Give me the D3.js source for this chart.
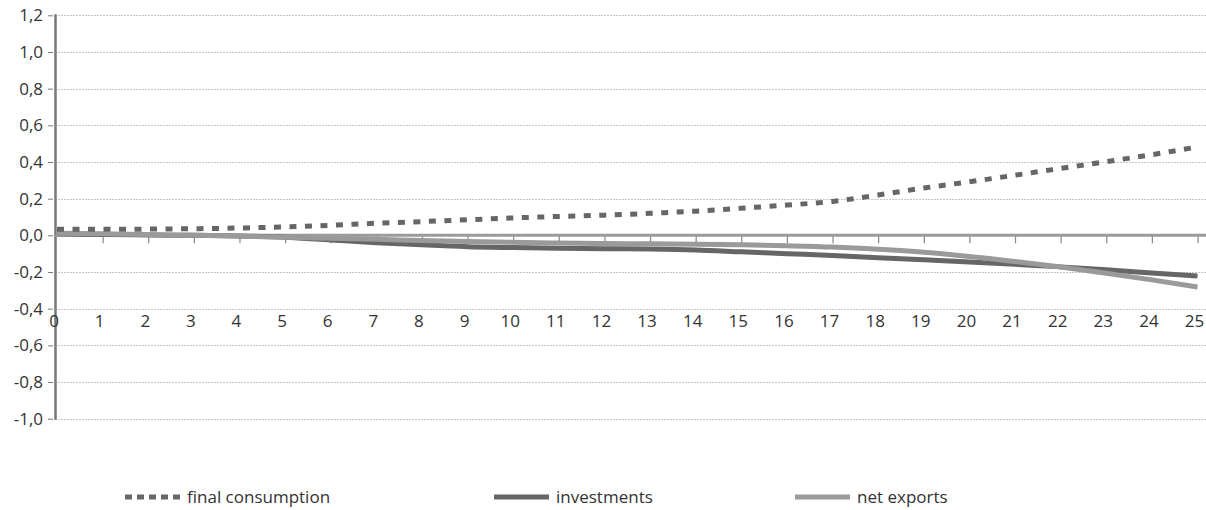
<!DOCTYPE html>
<html>
<head>
<meta charset="utf-8">
<script src="https://cdn.jsdelivr.net/npm/d3@7/dist/d3.min.js"></script>
<style>
  html, body { margin: 0; padding: 0; background: #fff; }
  svg { display: block; font-family: "Open Sans", "Noto Sans", sans-serif; }
</style>
</head>
<body>
<svg id="chart" width="1206" height="510"></svg>
<script>
const periods = d3.range(0, 26);
const yTicks = [1.2, 1.0, 0.8, 0.6, 0.4, 0.2, 0.0, -0.2, -0.4, -0.6, -0.8, -1.0];
const finalConsumption = [0.033, 0.033, 0.034, 0.036, 0.040, 0.046, 0.055, 0.066, 0.075, 0.085, 0.095, 0.103, 0.110, 0.120, 0.132, 0.148, 0.165, 0.185, 0.220, 0.258, 0.292, 0.328, 0.365, 0.402, 0.440, 0.482];
const investments = [0.008, 0.005, 0.002, 0.000, -0.003, -0.010, -0.025, -0.040, -0.052, -0.062, -0.067, -0.071, -0.073, -0.075, -0.080, -0.090, -0.100, -0.110, -0.122, -0.133, -0.145, -0.158, -0.172, -0.188, -0.205, -0.222];
const netExports = [0.012, 0.008, 0.004, 0.000, -0.004, -0.010, -0.016, -0.022, -0.028, -0.034, -0.038, -0.042, -0.045, -0.046, -0.048, -0.052, -0.057, -0.064, -0.076, -0.092, -0.115, -0.143, -0.173, -0.207, -0.243, -0.282];
const seriesNames = ["final consumption", "investments", "net exports"];

const svg = d3.select("#chart");
const x = d3.scaleLinear().domain([0, 25]).range([57, 1197.5]);
const y = d3.scaleLinear().domain([-1.0, 1.2]).range([418.7, 15.3]);
const fmt = d => d3.format(".1f")(d).replace(".", ",").replace("−", "-");
const tickFont = "17px";
const axisX = 55.5;

// gridlines (dotted)
svg.append("g").selectAll("line").data(yTicks.filter(d => d !== 0)).join("line")
  .attr("x1", axisX).attr("x2", 1206)
  .attr("y1", d => Math.round(y(d)) + 0.5).attr("y2", d => Math.round(y(d)) + 0.5)
  .attr("stroke", "#8a8a8a").attr("stroke-width", 1).attr("stroke-dasharray", "1,2");

// y axis
const yAxis = d3.axisLeft(y).tickValues(yTicks).tickSize(5).tickPadding(5).tickFormat(fmt);
const gy = svg.append("g").attr("transform", "translate(" + (axisX - 2.5) + ",0)").call(yAxis);
gy.select(".domain").remove();
gy.selectAll(".tick line").attr("stroke", "#777").attr("stroke-width", 1);
gy.selectAll(".tick text").attr("fill", "#333").style("font-size", tickFont)
  .style("font-family", "'Open Sans', sans-serif");

svg.append("line").attr("x1", axisX).attr("x2", axisX).attr("y1", y(1.2) - 1).attr("y2", y(-1.0) + 1)
  .attr("stroke", "#777").attr("stroke-width", 2.5);

// zero axis with ticks
svg.append("line").attr("x1", axisX).attr("x2", 1206).attr("y1", y(0)).attr("y2", y(0))
  .attr("stroke", "#9a9a9a").attr("stroke-width", 3);
const xAxis = d3.axisBottom(x).tickValues(periods.filter(d => d > 0)).tickSize(7).tickFormat("");
const gx = svg.append("g").attr("transform", "translate(0," + (y(0) + 1) + ")").call(xAxis);
gx.select(".domain").remove();
gx.selectAll(".tick line").attr("stroke", "#888").attr("stroke-width", 1.2);

// x labels below -0.4 gridline
const xLab = d3.axisBottom(x).tickValues(periods).tickSize(0).tickPadding(0).tickFormat(d => d);
const gxl = svg.append("g").attr("transform", "translate(-3.5," + (y(-0.4) + 6.5) + ")").call(xLab);
gxl.select(".domain").remove();
gxl.selectAll(".tick text").attr("fill", "#333").style("font-size", tickFont)
  .style("font-family", "'Open Sans', sans-serif");

// lines
const line = d3.line().x((d, i) => x(periods[i])).y(d => y(d)).curve(d3.curveMonotoneX);
svg.append("path").datum(investments).attr("d", line).attr("fill", "none")
  .attr("stroke", "#666").attr("stroke-width", 5);
svg.append("path").datum(netExports).attr("d", line).attr("fill", "none")
  .attr("stroke", "#9a9a9a").attr("stroke-width", 5);
svg.append("path").datum(finalConsumption).attr("d", line).attr("fill", "none")
  .attr("stroke", "#666").attr("stroke-width", 5).attr("stroke-dasharray", "7,8.5");

// legend
const legendY = 497;
const legendItems = [
  {name: seriesNames[0], x0: 125, color: "#666", dash: "7,5"},
  {name: seriesNames[1], x0: 494, color: "#666", dash: null},
  {name: seriesNames[2], x0: 795, color: "#9a9a9a", dash: null}
];
const lg = svg.append("g").selectAll("g").data(legendItems).join("g");
lg.append("line").attr("x1", d => d.x0).attr("x2", d => d.x0 + 55)
  .attr("y1", legendY).attr("y2", legendY)
  .attr("stroke", d => d.color).attr("stroke-width", 5)
  .attr("stroke-dasharray", d => d.dash);
lg.append("text").attr("x", d => d.x0 + 62).attr("y", legendY + 6)
  .attr("fill", "#333").style("font-size", "17px").text(d => d.name);
</script>
</body>
</html>
